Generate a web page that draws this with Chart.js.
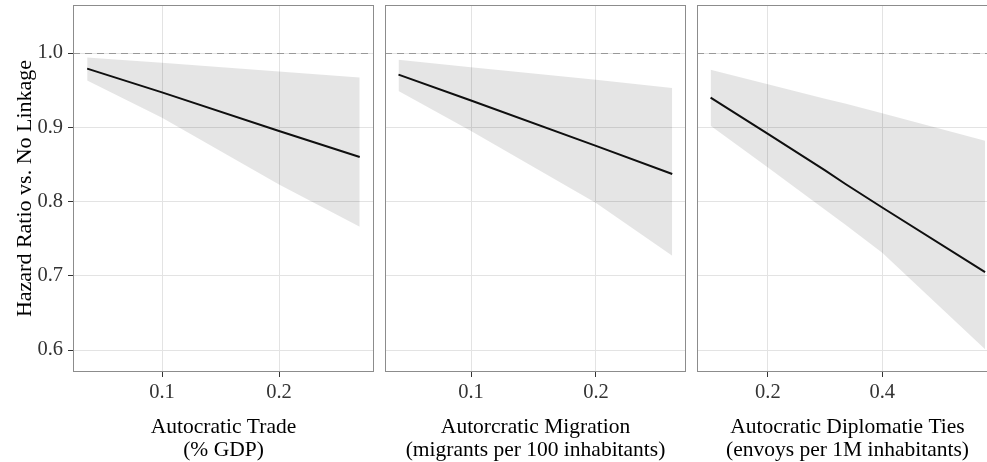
<!DOCTYPE html>
<html>
<head>
<meta charset="utf-8">
<script src="https://cdn.jsdelivr.net/npm/chart.js@4.4.1/dist/chart.umd.min.js"></script>
<style>
    html, body { margin: 0; padding: 0; background: #fff; overflow: hidden; }
    #wrap { position: relative; width: 987px; height: 462px; overflow: hidden; }
    #wrap canvas { position: absolute; top: 0; }
</style>
</head>
<body>
<div id="wrap">
    <canvas id="trade" width="376" height="462" style="left:0px"></canvas>
    <canvas id="migration" width="305" height="462" style="left:383px"></canvas>
    <canvas id="diplomacy" width="305" height="462" style="left:695px"></canvas>
</div>
<script>
// shared y axis
const yTicks = [0.6, 0.7, 0.8, 0.9, 1.0];
const yRange = [0.5704, 1.0647];
const refValue = 1.0;
const yTitle = 'Hazard Ratio vs. No Linkage';

// panel 1: trade
const tradeX = [0.036, 0.1, 0.2, 0.269];
const tradeFit = [0.979, 0.947, 0.895, 0.860];
const tradeLow = [0.963, 0.913, 0.823, 0.766];
const tradeHigh = [0.994, 0.987, 0.975, 0.967];
const tradeTicks = [0.1, 0.2];
const tradeRange = [0.0239, 0.2812];
const tradeTitle = ['Autocratic Trade', '(% GDP)'];

// panel 2: migration
const migrationX = [0.042, 0.1, 0.2, 0.261];
const migrationFit = [0.971, 0.936, 0.875, 0.837];
const migrationLow = [0.949, 0.895, 0.798, 0.727];
const migrationHigh = [0.991, 0.981, 0.964, 0.953];
const migrationTicks = [0.1, 0.2];
const migrationRange = [0.0312, 0.2720];
const migrationTitle = ['Autorcratic Migration', '(migrants per 100 inhabitants)'];

// panel 3: diplomatic ties
const diplomacyX = [0.0997, 0.2, 0.3, 0.335, 0.4, 0.58];
const diplomacyFit = [0.940, 0.891, 0.842, 0.824, 0.792, 0.705];
const diplomacyLow = [0.902, 0.846, 0.789, 0.769, 0.731, 0.601];
const diplomacyHigh = [0.9775, 0.958, 0.9385, 0.932, 0.919, 0.882];
const diplomacyTicks = [0.2, 0.4];
const diplomacyRange = [0.0759, 0.6026];
const diplomacyTitle = ['Autocratic Diplomatie Ties', '(envoys per 1M inhabitants)'];

Chart.defaults.font.family = "'Liberation Serif', 'Times New Roman', serif";

const gridColor = '#e3e3e3';
const tickColor = '#333';

function points(xs, ys) {
    return xs.map((x, i) => ({x: x, y: ys[i]}));
}

// no extra room for labels hanging over the plot edges
function noPadding(s) {
    s.paddingTop = 0;
    s.paddingBottom = 0;
    s.paddingLeft = 0;
    s.paddingRight = 0;
}

// panel frame + dashed reference line
const panelDecor = {
    id: 'panelDecor',
    beforeDatasetsDraw(chart) {
        const {ctx, chartArea: a, scales} = chart;
        const y = Math.round(scales.y.getPixelForValue(refValue)) + 0.5;
        ctx.save();
        ctx.strokeStyle = '#999';
        ctx.lineWidth = 1.2;
        ctx.setLineDash([7, 5]);
        ctx.beginPath();
        ctx.moveTo(a.left, y);
        ctx.lineTo(a.right, y);
        ctx.stroke();
        ctx.restore();
    },
    afterDatasetsDraw(chart) {
        const {ctx, chartArea: a} = chart;
        ctx.save();
        ctx.strokeStyle = '#8c8c8c';
        ctx.lineWidth = 1;
        ctx.strokeRect(a.left + 0.5, a.top + 0.5, a.right - a.left - 1, a.bottom - a.top - 1);
        ctx.restore();
    }
};

function makePanel(id, xs, fit, low, high, xTicks, xRange, title, showY) {
    return new Chart(document.getElementById(id), {
        type: 'line',
        data: {
            datasets: [
                {data: points(xs, low), borderWidth: 0, pointRadius: 0, fill: false},
                {data: points(xs, high), borderWidth: 0, pointRadius: 0, fill: '-1',
                    backgroundColor: 'rgba(0,0,0,0.1)'},
                {data: points(xs, fit), borderColor: '#111', borderWidth: 2, pointRadius: 0, fill: false}
            ]
        },
        options: {
            responsive: false,
            animation: false,
            layout: {padding: {top: 5, right: 2, bottom: 0, left: 0}},
            plugins: {legend: {display: false}, tooltip: {enabled: false}},
            scales: {
                x: {
                    type: 'linear',
                    min: xRange[0],
                    max: xRange[1],
                    afterBuildTicks: s => { s.ticks = xTicks.map(v => ({value: v})); },
                    afterFit: s => { s.height = 90; noPadding(s); },
                    border: {display: false},
                    grid: {color: gridColor, tickColor: tickColor, tickLength: 5},
                    ticks: {color: tickColor, padding: 3, font: {size: 20.5},
                        callback: v => v.toFixed(1)},
                    title: {display: true, text: title, color: '#000',
                        font: {size: 21.5, lineHeight: 1.08}, padding: {top: 0, bottom: 0}}
                },
                y: {
                    type: 'linear',
                    min: yRange[0],
                    max: yRange[1],
                    afterBuildTicks: s => { s.ticks = yTicks.map(v => ({value: v})); },
                    afterFit: s => { s.width = showY ? 73 : 2; noPadding(s); },
                    border: {display: false},
                    grid: {color: gridColor, tickColor: tickColor, tickLength: 5, drawTicks: showY},
                    ticks: {display: showY, color: tickColor, padding: 5, font: {size: 20.5},
                        callback: v => v.toFixed(1)},
                    title: {display: showY, text: yTitle, color: '#000',
                        font: {size: 22}, padding: {top: 12, bottom: 0}}
                }
            }
        },
        plugins: [panelDecor]
    });
}

makePanel('trade', tradeX, tradeFit, tradeLow, tradeHigh, tradeTicks, tradeRange, tradeTitle, true);
makePanel('migration', migrationX, migrationFit, migrationLow, migrationHigh, migrationTicks, migrationRange, migrationTitle, false);
makePanel('diplomacy', diplomacyX, diplomacyFit, diplomacyLow, diplomacyHigh, diplomacyTicks, diplomacyRange, diplomacyTitle, false);
</script>
</body>
</html>
